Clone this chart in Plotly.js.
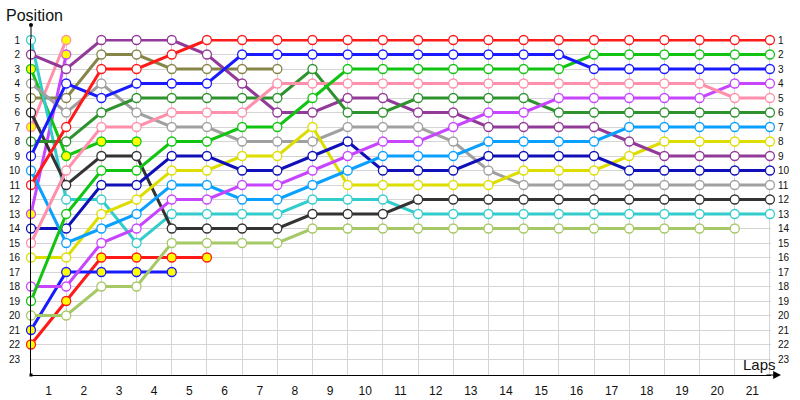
<!DOCTYPE html>
<html>
<head>
<meta charset="utf-8">
<script src="https://cdn.plot.ly/plotly-3.0.1.min.js"></script>
<style>html,body{margin:0;padding:0;background:#fff;}#chart{width:800px;height:400px;}</style>
</head>
<body>
<div id="chart"></div>
<script>
// ---- data (positions per lap, lap 0 = grid) ----
const laps = [0,1,2,3,4,5,6,7,8,9,10,11,12,13,14,15,16,17,18,19,20,21];
const lapLabels = ['1','2','3','4','5','6','7','8','9','10','11','12','13','14','15','16','17','18','19','20','21'];
const positions = [1,2,3,4,5,6,7,8,9,10,11,12,13,14,15,16,17,18,19,20,21,22,23];

const red         = [11,7,3,3,2,1,1,1,1,1,1,1,1,1,1,1,1,1,1,1,1,1];
const blue        = [9,4,5,4,4,4,2,2,2,2,2,2,2,2,2,2,3,3,3,3,3,3];
const green       = [19,13,10,10,8,8,7,7,5,3,3,3,3,3,3,3,2,2,2,2,2,2];
const pink        = [15,10,7,7,6,6,6,4,4,4,4,4,4,4,4,4,4,4,4,4,5,5];
const violet      = [18,18,15,14,12,12,11,11,10,9,8,8,7,6,6,5,5,5,5,5,4,4];
const darkGreen   = [8,8,6,5,5,5,5,5,3,6,6,5,5,5,5,6,6,6,6,6,6,6];
const lightBlue   = [10,15,14,13,11,11,12,12,11,10,9,9,9,8,8,8,8,7,7,7,7,7];
const purple      = [2,3,1,1,1,2,4,6,6,5,5,6,6,7,7,7,7,8,9,9,9,9];
const darkBlue    = [14,14,11,11,9,9,10,10,9,8,10,10,10,9,9,9,9,10,10,10,10,10];
const yellow      = [16,16,13,12,10,10,9,9,7,11,11,11,11,11,10,10,10,9,8,8,8,8];
const gray        = [4,6,4,6,7,7,8,8,8,7,7,7,8,10,11,11,11,11,11,11,11,11];
const black       = [6,11,9,9,14,14,14,14,13,13,13,12,12,12,12,12,12,12,12,12,12,12];
const cyan        = [1,12,12,15,13,13,13,13,12,12,12,13,13,13,13,13,13,13,13,13,13,13];
const yellowGreen = [20,20,18,18,15,15,15,15,14,14,14,14,14,14,14,14,14,14,14,14,14];
const olive       = [5,5,2,2,3,3,3,3];
// retired drivers
const greenOut    = [3,9,8,8];
const pinkOut     = [7,1];
const violetOut   = [13,2];
const blueOut     = [21,17,17,17,17];
const redOut      = [22,19,16,16,16,16];

// ---- styles ----
const series = [
  [redOut, '#ff1a1a', true],
  [blueOut, '#1a1aff', true],
  [violetOut, '#c845ff', true],
  [pinkOut, '#ff8fab', true],
  [greenOut, '#12c412', true],
  [yellowGreen, '#a6c866', false],
  [olive, '#85854a', false],
  [cyan, '#33cccc', false],
  [black, '#333333', false],
  [gray, '#a0a0a0', false],
  [yellow, '#dddd00', false],
  [darkBlue, '#1010b8', false],
  [purple, '#923a98', false],
  [lightBlue, '#0aa0ff', false],
  [darkGreen, '#2e922e', false],
  [violet, '#c845ff', false],
  [pink, '#ff8fab', false],
  [green, '#12c412', false],
  [blue, '#1a1aff', false],
  [red, '#ff1a1a', false]
];

const traces = series.map(([vals, col, out]) => ({
  type: 'scatter',
  mode: 'lines+markers',
  x: laps.slice(0, vals.length),
  y: vals,
  cliponaxis: false,
  hoverinfo: 'skip',
  line: {color: col, width: 3},
  marker: {symbol: 'circle', size: 9, color: out ? '#ffff00' : '#ffffff',
           line: {color: col, width: 1.3}}
}));

const font = 'Liberation Sans, Arial, sans-serif';
const rightLabels = positions.map(p => ({
  xref: 'paper', yref: 'y', x: 1, y: p, xanchor: 'left', yanchor: 'middle',
  xshift: 5, text: String(p), showarrow: false,
  font: {family: font, size: 10, color: '#111'}
}));

const layout = {
  width: 800, height: 400,
  margin: {l: 31, r: 29, t: 39, b: 25, pad: 0},
  paper_bgcolor: '#ffffff', plot_bgcolor: '#ffffff',
  showlegend: false,
  font: {family: font, color: '#111'},
  xaxis: {
    range: [0, 21.03], tickmode: 'array',
    tickvals: lapLabels.map((t, i) => laps[i] + 0.5), ticktext: lapLabels,
    showgrid: false, zeroline: false, showline: true, linecolor: '#000', linewidth: 1,
    ticks: '', ticklabelstandoff: 5,
    tickfont: {family: font, size: 12, color: '#111'},
    minor: {tickmode: 'array', tickvals: laps, showgrid: true, gridcolor: '#d4d4d4', gridwidth: 1, ticks: ''}
  },
  yaxis: {
    range: [24.103, 0.931], tickmode: 'array', tickvals: positions,
    ticktext: positions.map(String),
    showgrid: true, gridcolor: '#d4d4d4', gridwidth: 1,
    zeroline: false, showline: true, linecolor: '#000', linewidth: 1,
    ticks: '', ticklabelstandoff: 8,
    tickfont: {family: font, size: 10, color: '#111'}
  },
  shapes: [
    {type: 'line', xref: 'paper', yref: 'paper', x0: 0, x1: 0, y0: 1, y1: 1.0417,
     line: {color: '#000', width: 1}},
    {type: 'circle', xref: 'paper', yref: 'paper', xsizemode: 'pixel', ysizemode: 'pixel',
     xanchor: 0, yanchor: 1.0417, x0: -2, x1: 2, y0: -2, y1: 2,
     fillcolor: '#000', line: {color: '#000', width: 0}},
    {type: 'rect', xref: 'paper', yref: 'paper', xsizemode: 'pixel', ysizemode: 'pixel',
     xanchor: 0, yanchor: 0, x0: -1.5, x1: 1.5, y0: -1.5, y1: 1.5,
     fillcolor: '#000', line: {color: '#000', width: 0}}
  ],
  annotations: [
    {xref: 'paper', yref: 'paper', x: -0.0365, y: 1.0714, xanchor: 'left', yanchor: 'middle',
     text: 'Position', showarrow: false, font: {family: font, size: 16, color: '#111'}},
    {xref: 'paper', yref: 'paper', x: 0.9595, y: 0.0327, xanchor: 'left', yanchor: 'middle',
     text: 'Laps', showarrow: false, font: {family: font, size: 15, color: '#111'}},
    {xref: 'paper', yref: 'paper', x: 1.0135, y: 0, ax: -16, ay: 0, text: '',
     showarrow: true, arrowhead: 2, arrowsize: 1.3, arrowwidth: 1.2, arrowcolor: '#000'}
  ].concat(rightLabels)
};

Plotly.newPlot('chart', traces, layout, {displayModeBar: false, staticPlot: true});
</script>
</body>
</html>
